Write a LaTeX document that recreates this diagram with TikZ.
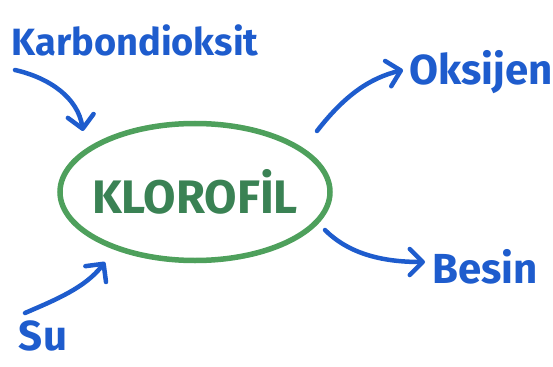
\documentclass[tikz,border=0pt]{standalone}
\usepackage{fontspec}
\setmainfont{Fira Sans}
\usetikzlibrary{arrows.meta,shapes.geometric}
\definecolor{penblue}{RGB}{30,92,205}
\definecolor{pengreen}{RGB}{78,160,92}
\definecolor{inkgreen}{RGB}{58,130,84}
\begin{document}
\begin{tikzpicture}[x=1pt,y=-1pt,
  label/.style={text=penblue,inner sep=0pt,font=\fontsize{38}{40}\selectfont\bfseries},
  penarrow/.style={draw=penblue,line width=4.5pt,line cap=round,
    -{Straight Barb[length=13pt,width=26pt,line width=4.5pt,round]}}]
  \useasboundingbox (0,0) rectangle (553,366);
  % central ellipse and its word
  \node[ellipse,draw=pengreen,line width=5.5pt,minimum width=270pt,minimum height=137pt,
        inner sep=0pt] (klorofil) at (195,192) {};
  \node[text=inkgreen,inner sep=0pt,font=\fontsize{47}{49}\selectfont\bfseries]
        (klorofiltext) at (klorofil.center) {KLOROFİL};
  % labels
  \node[label] (co2) at (135,40) {Karbondioksit};
  \node[label,font=\fontsize{42}{44}\selectfont\bfseries] (o2) at (481,72) {Oksijen};
  \node[label,font=\fontsize{42}{44}\selectfont\bfseries] (besin) at (485,267) {Besin};
  \node[label,font=\fontsize{42}{44}\selectfont\bfseries] (su) at (43,336) {Su};
  % arrow ends
  \coordinate (co2s) at (15,70);
  \coordinate (co2e) at (83,131);
  \coordinate (o2s) at (317,131);
  \coordinate (o2e) at (403,70);
  \coordinate (bs) at (325,230);
  \coordinate (be) at (425,262);
  \coordinate (ss) at (25,313);
  \coordinate (se) at (105,262);
  % arrows
  \draw[penarrow] (co2s) .. controls (50,78) and (78,98) .. (co2e);
  \draw[penarrow] (o2s) .. controls (345,95) and (370,78) .. (o2e);
  \draw[penarrow] (bs) .. controls (350,255) and (385,262) .. (be);
  \draw[penarrow] (ss) .. controls (55,300) and (85,288) .. (se);
\end{tikzpicture}
\end{document}
